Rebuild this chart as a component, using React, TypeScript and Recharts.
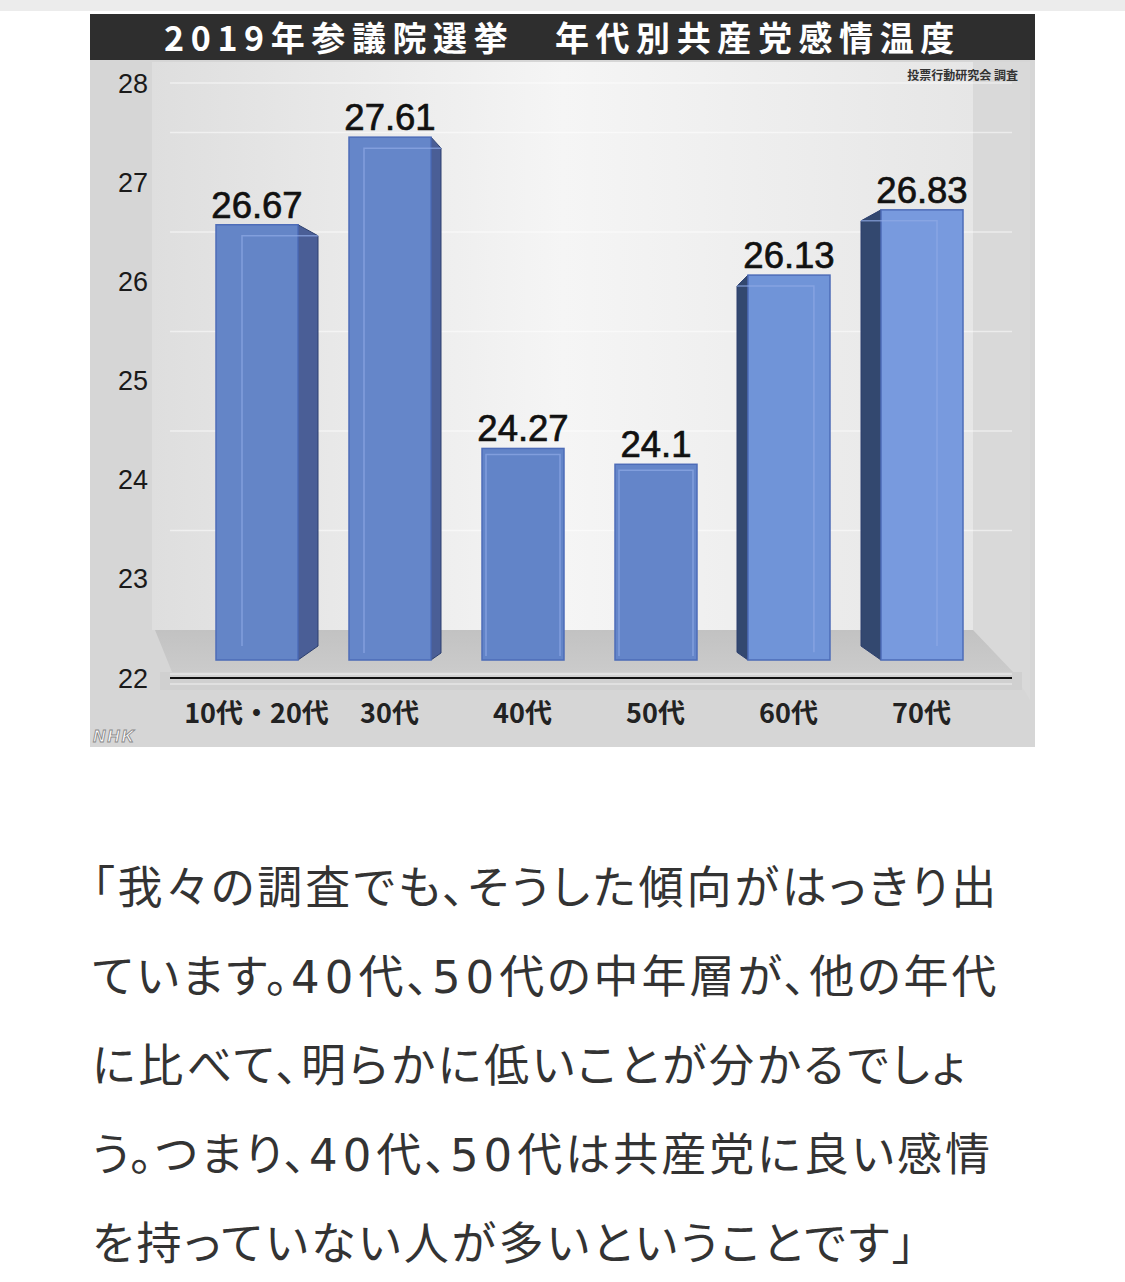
import { Bar, BarChart, CartesianGrid, LabelList, XAxis, YAxis } from "recharts"

const categories = ["10代・20代", "30代", "40代", "50代", "60代", "70代"]
const temperatures = [26.67, 27.61, 24.27, 24.1, 26.13, 26.83]
const yTicks = [22, 23, 24, 25, 26, 27, 28]
const wallTicks = [23, 24, 25, 26, 27]
const BASE = 22

const data = categories.map((label, i) => ({
  label,
  value: temperatures[i],
  span: [BASE, temperatures[i]],
}))

// 3D look: side-face depth per column (perspective), front colours
const SIDE_DEPTH = [20, 10, 0, 0, -11, -20]
const FRONT_COLORS = ["#6485c7", "#6586c9", "#6284c8", "#6485c9", "#7094d8", "#789ade"]

const JP = '"Noto Sans CJK JP", "Noto Sans", sans-serif'
const NUM = '"Liberation Sans", Arial, sans-serif'

function Column3D(props: any) {
  const { x, y, width, height, index } = props
  const d = SIDE_DEPTH[index] ?? 0
  const t = 11
  const b = Math.abs(d) * 0.7
  const inner = d === 0 ? 4 : Math.abs(d) * 1.1 + 4
  const front = FRONT_COLORS[index] ?? "#6485c7"
  const sideFill = d > 0 ? "#4a5e96" : "#33486f"

  let side = ""
  let back = ""
  if (d > 0) {
    const r = x + width
    side = `${r},${y} ${r + d},${y + t} ${r + d},${y + height - b} ${r},${y + height}`
    back = `M${x + inner},${y + height - b} L${x + inner},${y + t} L${r + d},${y + t}`
  } else if (d < 0) {
    side = `${x},${y} ${x + d},${y + t} ${x + d},${y + height - b} ${x},${y + height}`
    back = `M${x + width - inner},${y + height - b} L${x + width - inner},${y + t} L${x + d},${y + t}`
  } else {
    back = `M${x + inner},${y + height - 4} L${x + inner},${y + 6} L${x + width - inner},${y + 6} L${x + width - inner},${y + height - 4}`
  }

  return (
    <g>
      {side && <polygon points={side} fill={sideFill} stroke="#2c3f6e" strokeWidth={1} />}
      <rect x={x} y={y} width={width} height={height} fill={front} stroke="#4d6cb8" strokeWidth={1.5} />
      <path d={back} fill="none" stroke="#8eaae6" strokeOpacity={0.7} strokeWidth={1.5} />
    </g>
  )
}

function Backdrop() {
  return (
    <svg width={945} height={687} style={{ position: "absolute", left: 90, top: 60 }}>
      <defs>
        <linearGradient id="wall" x1="0" x2="1" y1="0" y2="0">
          <stop offset="0%" stopColor="#dedede" />
          <stop offset="50%" stopColor="#f5f5f5" />
          <stop offset="100%" stopColor="#e6e6e6" />
        </linearGradient>
        <linearGradient id="floor" x1="0" x2="0" y1="0" y2="1">
          <stop offset="0%" stopColor="#c2c2c2" />
          <stop offset="100%" stopColor="#cbcbcb" />
        </linearGradient>
      </defs>
      <rect x={0} y={0} width={945} height={687} fill="#d6d6d6" />
      <rect x={62} y={2} width={823} height={568} fill="url(#wall)" />
      <polygon points="883,2 940,2 940,640 923,612 883,570" fill="#d9d9d9" />
      <polygon points="65,570 883,570 923,612 82,612" fill="url(#floor)" />
      <rect x={70} y={612} width={862} height={18} fill="#d0d0d0" />
      <line x1={80} x2={922} y1={614} y2={614} stroke="#e6e6e6" strokeWidth={1.5} />
      <line x1={80} x2={922} y1={624} y2={624} stroke="#e6e6e6" strokeWidth={1.5} />
      <text
        x={3}
        y={682}
        fontFamily={NUM}
        fontStyle="italic"
        fontWeight={700}
        fontSize={17}
        fill="#ffffff"
        stroke="#8a8a8a"
        strokeWidth={0.9}
        letterSpacing={2}
      >
        NHK
      </text>
    </svg>
  )
}

const Num = ({ children }: { children: string }) => (
  <span style={{ fontFamily: '"DejaVu Sans", sans-serif', letterSpacing: 5, lineHeight: 1 }}>{children}</span>
)

export default function App() {
  return (
    <div style={{ position: "relative", width: 1125, height: 1282, background: "#fff", overflow: "hidden" }}>
      <style>{`body{margin:0}`}</style>
      <div style={{ position: "absolute", left: 0, top: 0, width: 1125, height: 11, background: "#ececec" }} />

      <div
        style={{
          position: "absolute",
          left: 90,
          top: 14,
          width: 945,
          height: 46,
          background: "#2e2e2e",
          color: "#fff",
          fontFamily: JP,
          fontWeight: 700,
          fontSize: 34,
          letterSpacing: 6.6,
          lineHeight: "46px",
          textAlign: "center",
          whiteSpace: "nowrap",
        }}
      >
        2019年参議院選挙　年代別共産党感情温度
      </div>

      <Backdrop />

      <div
        style={{
          position: "absolute",
          left: 860,
          top: 66,
          width: 158,
          textAlign: "right",
          fontFamily: JP,
          fontWeight: 700,
          fontSize: 12,
          color: "#333",
          whiteSpace: "nowrap",
        }}
      >
        投票行動研究会 調査
      </div>

      <div style={{ position: "absolute", left: 90, top: 60 }}>
        <BarChart
          width={945}
          height={687}
          data={data}
          margin={{ top: 23, right: 23, bottom: 0, left: 0 }}
          barSize={82}
        >
          <CartesianGrid
            yAxisId="wall"
            vertical={false}
            stroke="#ffffff"
            strokeOpacity={0.5}
            strokeWidth={1.5}
          />
          <XAxis
            dataKey="label"
            height={69}
            padding={{ left: 20, right: 24 }}
            axisLine={{ stroke: "#111", strokeWidth: 2 }}
            tickLine={false}
            tickSize={0}
            tickMargin={26}
            interval={0}
            tick={{ fontSize: 27, fontWeight: 700, fill: "#222", fontFamily: JP }}
          />
          <YAxis
            yAxisId="ticks"
            width={80}
            domain={[22, 28]}
            ticks={yTicks}
            allowDataOverflow
            interval={0}
            axisLine={false}
            tickLine={false}
            tickSize={0}
            tickMargin={22}
            tick={{ fontSize: 27, fill: "#1a1a1a", fontFamily: NUM }}
          />
          <YAxis yAxisId="bars" orientation="right" width={0} hide domain={[21.807, 28.191]} allowDataOverflow />
          <YAxis
            yAxisId="wall"
            orientation="right"
            width={0}
            hide
            domain={[21.518, 27.498]}
            ticks={wallTicks}
            allowDataOverflow
          />
          <Bar
            yAxisId="bars"
            dataKey="span"
            isAnimationActive={false}
            shape={(p: any) => <Column3D {...p} />}
          >
            <LabelList
              dataKey="value"
              position="top"
              offset={7}
              style={{ fontSize: 36.5, fill: "#111", fontFamily: NUM, stroke: "#111", strokeWidth: 0.7 }}
            />
          </Bar>
        </BarChart>
      </div>

      <div
        style={{
          position: "absolute",
          left: 92,
          top: 840,
          fontFamily: JP,
          fontSize: 45,
          letterSpacing: 3,
          lineHeight: "89px",
          color: "#333",
          fontFeatureSettings: '"palt"',
          whiteSpace: "nowrap",
        }}
      >
        <div>「我々の調査でも、そうした傾向がはっきり出</div>
        <div>
          ています。<Num>40</Num>代、<Num>50</Num>代の中年層が、他の年代
        </div>
        <div>に比べて、明らかに低いことが分かるでしょ</div>
        <div>
          う。つまり、<Num>40</Num>代、<Num>50</Num>代は共産党に良い感情
        </div>
        <div>を持っていない人が多いということです」</div>
      </div>
    </div>
  )
}
